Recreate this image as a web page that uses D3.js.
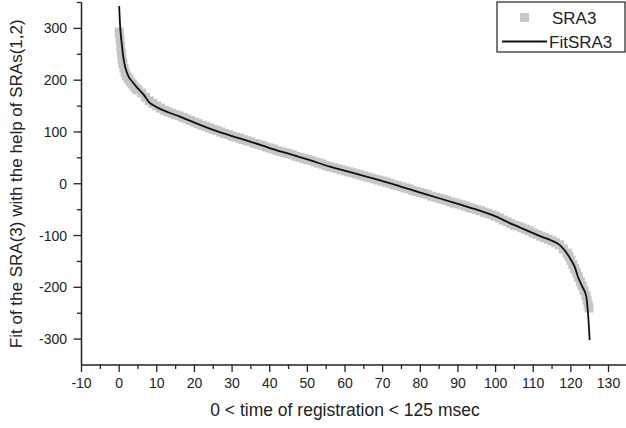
<!DOCTYPE html>
<html><head><meta charset="utf-8">
<script src="https://cdn.jsdelivr.net/npm/d3@7"></script>
<style>html,body{margin:0;padding:0;background:#fff;}svg{display:block;font-family:"Liberation Sans",Arial,sans-serif;}</style>
</head><body><div id="chart"></div>
<script>
// ---- data ----
const sraT = [0,0.2,0.4,0.6,0.8,1,1.3,1.6,2,2.5,3,3.5,4,4.5,5,6,7,8,9,10,11,12,13,14,15,16,17,18,19,20,21,22,23,24,25,26,27,28,29,30,31,32,33,34,35,36,37,38,39,40,41,42,43,44,45,46,47,48,49,50,51,52,53,54,55,56,57,58,59,60,61,62,63,64,65,66,67,68,69,70,71,72,73,74,75,76,77,78,79,80,81,82,83,84,85,86,87,88,89,90,91,92,93,94,95,96,97,98,99,100,101,102,103,104,105,106,107,108,109,110,111,112,113,114,115,116,117,118,119,119.5,120,120.5,121,121.5,122,122.5,123,123.5,124,124.3,124.6,124.8];
const sraV = [293,280,265,252,240,232,222,214,208,202,197,193,188,184,181,175,167,160,155,150,146,142,139,136,133,131,128,125,122,119,116,113,111,108,105,103,100,97,95,92,90,88,85,83,81,78,76,74,71,69,67,64,62,60,58,56,53,51,49,47,45,42,40,38,35,33,31,29,27,25,23,21,19,17,15,13,11,9,7,5,3,1,-2,-4,-6,-8,-10,-13,-15,-17,-19,-21,-24,-26,-28,-30,-32,-35,-37,-39,-41,-43,-46,-48,-50,-52,-55,-57,-60,-63,-66,-70,-73,-77,-80,-82,-85,-88,-91,-95,-98,-101,-104,-107,-110,-114,-118,-126,-134,-140,-148,-156,-164,-172,-180,-189,-197,-206,-216,-225,-234,-240];
const fitT = [0,0.3,0.7,1.0,1.4,1.9,2.5,3.4,4.5,5.5,6.5,7.4,8,9,11,13,16,20,25,30,35,40,45,50,56,60,65,70,75,80,85,90,95,100,105,108,111.8,115,117,118.5,119.8,121,122,123,124.1,124.4,124.7,125];
const fitV = [343,300,270,250,232,218,207,198,188,180,172,163,157,152,144,138,130,118,104,92,81,69,58,47,33,25,15,5,-6,-17,-28,-39,-50,-63,-80,-89,-101,-110,-118,-130,-144,-160,-182,-198,-218,-237,-265,-302];
const xTickVals = [-10,0,10,20,30,40,50,60,70,80,90,100,110,120,130];
const yTickVals = [-300,-200,-100,0,100,200,300];
const legendLabels = ["SRA3","FitSRA3"];
const xTitle = "0 < time of registration < 125 msec";
const yTitle = "Fit of the SRA(3) with the help of SRAs(1,2)";

// ---- layout ----
const W = 626, H = 428;
const svg = d3.select("#chart").append("svg").attr("width", W).attr("height", H);
const x = d3.scaleLinear().domain([-10, 130]).range([81.5, 608.5]);
const y = d3.scaleLinear().domain([-350, 350]).range([365, 2.5]);
const axisColor = "#222";
const gray = "#c6c6c6";

// SRA3 markers
svg.append("g").selectAll("rect").data(sraT.map((t,i)=>[t,sraV[i]])).join("rect")
  .attr("x", d => x(d[0]) - 4.5).attr("y", d => y(d[1]) - 4.5)
  .attr("width", 9).attr("height", 9).attr("fill", gray);

// Fit line
svg.append("path").datum(fitT.map((t,i)=>[t,fitV[i]]))
  .attr("d", d3.line().curve(d3.curveMonotoneX).x(d=>x(d[0])).y(d=>y(d[1])))
  .attr("fill","none").attr("stroke","#111").attr("stroke-width",1.8).attr("stroke-linejoin","round");

// X axis
const gx = svg.append("g").attr("stroke", axisColor);
gx.append("line").attr("x1", 81.5).attr("x2", W).attr("y1", 365).attr("y2", 365).attr("stroke-width", 1.5);
gx.selectAll("line.maj").data(xTickVals).join("line").attr("class","maj")
  .attr("x1", d=>x(d)).attr("x2", d=>x(d)).attr("y1", 365).attr("y2", 372).attr("stroke-width", 1.3);
gx.selectAll("line.min").data(d3.range(-5, 131, 10)).join("line").attr("class","min")
  .attr("x1", d=>x(d)).attr("x2", d=>x(d)).attr("y1", 365).attr("y2", 369).attr("stroke-width", 1.3);
svg.append("g").selectAll("text").data(xTickVals).join("text")
  .attr("x", d=>x(d)).attr("y", 388).attr("text-anchor","middle")
  .attr("font-size", 14).attr("fill", "#222").text(d=>d);
svg.append("text").attr("x", 345).attr("y", 416).attr("text-anchor","middle")
  .attr("font-size", 17.5).attr("fill","#222").text(xTitle);

// Y axis
const gy = svg.append("g").attr("stroke", axisColor);
gy.append("line").attr("x1", 81.5).attr("x2", 81.5).attr("y1", 2.5).attr("y2", 365).attr("stroke-width", 1.5);
gy.selectAll("line.maj").data(yTickVals).join("line").attr("class","maj")
  .attr("x1", 73.5).attr("x2", 81.5).attr("y1", d=>y(d)).attr("y2", d=>y(d)).attr("stroke-width", 1.3);
gy.selectAll("line.min").data([-250,-150,-50,50,150,250,350]).join("line").attr("class","min")
  .attr("x1", 77).attr("x2", 81.5).attr("y1", d=>y(d)).attr("y2", d=>y(d)).attr("stroke-width", 1.3);
svg.append("g").selectAll("text").data(yTickVals).join("text")
  .attr("x", 67).attr("y", d=>y(d)+5).attr("text-anchor","end")
  .attr("font-size", 14).attr("fill","#222").text(d=>d);
svg.append("text").attr("transform", `translate(22,${(2.5+365)/2}) rotate(-90)`)
  .attr("text-anchor","middle").attr("font-size", 17).attr("fill","#222").text(yTitle);

// Legend
const lg = svg.append("g");
lg.append("rect").attr("x", 497).attr("y", 2).attr("width", 128).attr("height", 50)
  .attr("fill","#fff").attr("stroke","#222").attr("stroke-width",1.2);
lg.append("rect").attr("x", 520).attr("y", 13).attr("width", 9).attr("height", 9).attr("fill", gray);
lg.append("line").attr("x1", 502).attr("x2", 547).attr("y1", 41.5).attr("y2", 41.5).attr("stroke","#111").attr("stroke-width",1.8);
lg.selectAll("text").data(legendLabels).join("text")
  .attr("x", (d,i)=> i===0 ? 552 : 549).attr("y", (d,i)=> i===0 ? 23.5 : 47.5)
  .attr("font-size", 17).attr("fill","#222").text(d=>d);
</script></body></html>
